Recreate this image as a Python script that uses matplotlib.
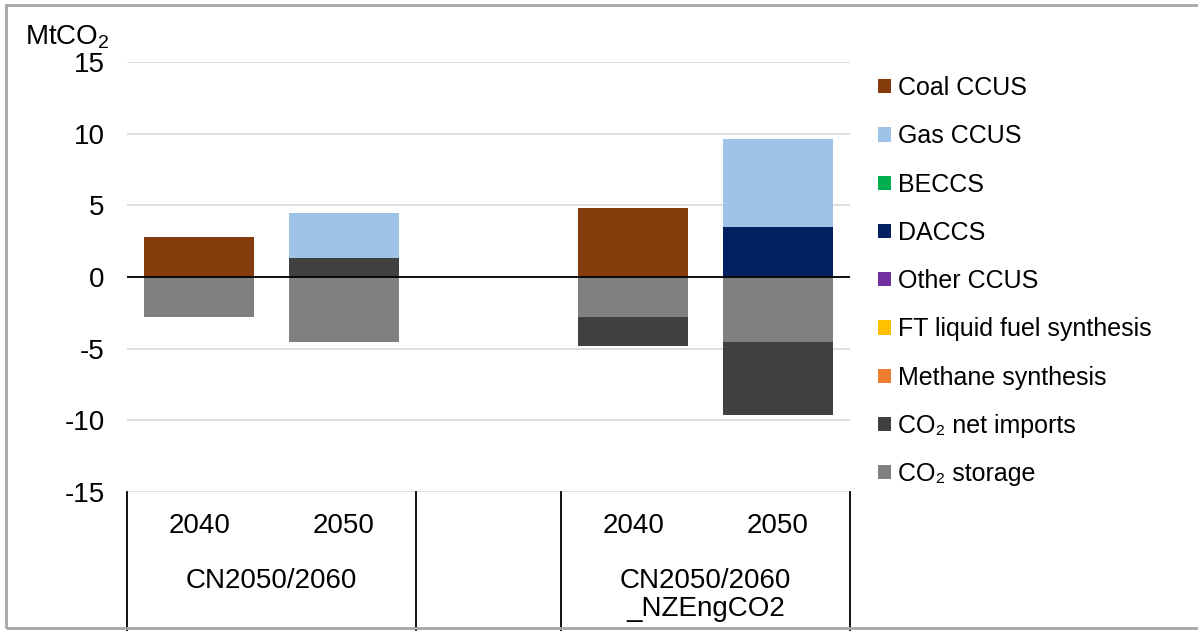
import matplotlib
matplotlib.use("Agg")
import matplotlib.pyplot as plt
from matplotlib.patches import Patch, Rectangle
from matplotlib.lines import Line2D
import numpy as np

plt.rcParams['font.family'] = ['Liberation Sans', 'DejaVu Sans']
plt.rcParams['mathtext.fontset'] = 'custom'
plt.rcParams['mathtext.rm'] = 'Liberation Sans'
plt.rcParams['mathtext.it'] = 'Liberation Sans'

# Category layout: two scenarios, each with 2040 and 2050, separated by an empty slot
years = ["2040", "2050", "", "2040", "2050"]
scenarios = ["CN2050/2060", "CN2050/2060\n_NZEngCO2"]

# Series in stacking order (bottom of stack first); legend lists them in reverse
series_names = ["CO\u2082 storage", "CO\u2082 net imports", "Methane synthesis",
                "FT liquid fuel synthesis", "Other CCUS", "DACCS", "BECCS",
                "Gas CCUS", "Coal CCUS"]
series_colors = ["#808080", "#404040", "#ED7D31", "#FFC000", "#7030A0",
                 "#002060", "#00B050", "#9DC3E6", "#843C0C"]

# Values per category slot (MtCO2); the empty slot holds zeros
co2_storage     = [-2.8, -4.5, 0, -2.8, -4.5]
co2_net_imports = [0.0, 1.3, 0, -2.0, -5.1]
methane_synth   = [0, 0, 0, 0, 0]
ft_liquid       = [0, 0, 0, 0, 0]
other_ccus      = [0, 0, 0, 0, 0]
daccs           = [0, 0, 0, 0, 3.5]
beccs           = [0, 0, 0, 0, 0]
gas_ccus        = [0, 3.2, 0, 0, 6.1]
coal_ccus       = [2.8, 0, 0, 4.8, 0]

series_values = [co2_storage, co2_net_imports, methane_synth, ft_liquid,
                 other_ccus, daccs, beccs, gas_ccus, coal_ccus]

W, H = 1198, 631
fig = plt.figure(figsize=(W / 100, H / 100), dpi=100)
fig.patch.set_facecolor("white")

ax_l, ax_r, ax_t, ax_b = 127, 850, 62, 492
ax = fig.add_axes([ax_l / W, (H - ax_b) / H, (ax_r - ax_l) / W, (ax_b - ax_t) / H])

x = np.arange(len(years))
pos_base = np.zeros(len(years))
neg_base = np.zeros(len(years))
for name, color, vals in zip(series_names, series_colors, series_values):
    vals = np.asarray(vals, dtype=float)
    bottoms = np.where(vals >= 0, pos_base, neg_base)
    ax.bar(x, vals, width=0.76, bottom=bottoms, color=color,
           edgecolor="none", zorder=3)
    pos_base += np.where(vals >= 0, vals, 0)
    neg_base += np.where(vals < 0, vals, 0)

ax.set_xlim(-0.5, len(years) - 0.5)
ax.set_ylim(-15, 15)
ax.set_yticks(np.arange(-15, 16, 5))
ax.set_yticklabels([f"{v:d}" for v in range(-15, 16, 5)])
ax.tick_params(axis="y", length=0, pad=16, labelsize=20)
ax.set_xticks([])
for s in ax.spines.values():
    s.set_visible(False)
ax.grid(axis="y", color="#D9D9D9", linewidth=1.2, zorder=0)
ax.axhline(0, color="black", linewidth=1.3, zorder=4)

# Multi-level category axis below the plot
for i, y in enumerate(years):
    if y:
        ax.text(i, -0.078, y, transform=ax.get_xaxis_transform(),
                ha="center", va="center", fontsize=20)
group_centers = [0.5, 3.5]
for c, label in zip(group_centers, scenarios):
    ax.text(c, -0.177, label, transform=ax.get_xaxis_transform(),
            ha="center", va="top", fontsize=20, linespacing=1.1)

for b in [-0.5, 1.5, 2.5, 4.5]:
    ax.add_line(Line2D([b, b], [0, -(H - ax_b) / (ax_b - ax_t) - 0.01],
                       transform=ax.get_xaxis_transform(), color="black",
                       linewidth=1.3, clip_on=False))

# Unit label
fig.text(25 / W, 1 - 37 / H, "MtCO$_2$", fontsize=20, ha="left", va="center")

# Legend (top entry is the last series drawn)
handles = [Patch(facecolor=c, edgecolor="none") for c in series_colors][::-1]
labels = series_names[::-1]
fig.legend(handles, labels, loc="upper left",
           bbox_to_anchor=(868 / W, 1 - 66 / H), frameon=False,
           fontsize=18, handlelength=0.5, handleheight=0.5,
           handletextpad=0.3, labelspacing=0.97, borderaxespad=0)

# Outer border of the chart area
fig.add_artist(Rectangle((6 / W, 3 / H), 1.2, 1 - 8 / H, transform=fig.transFigure,
                         fill=False, edgecolor="#A6A6A6", linewidth=2))

fig.savefig("out.png", dpi=100, facecolor="white")
